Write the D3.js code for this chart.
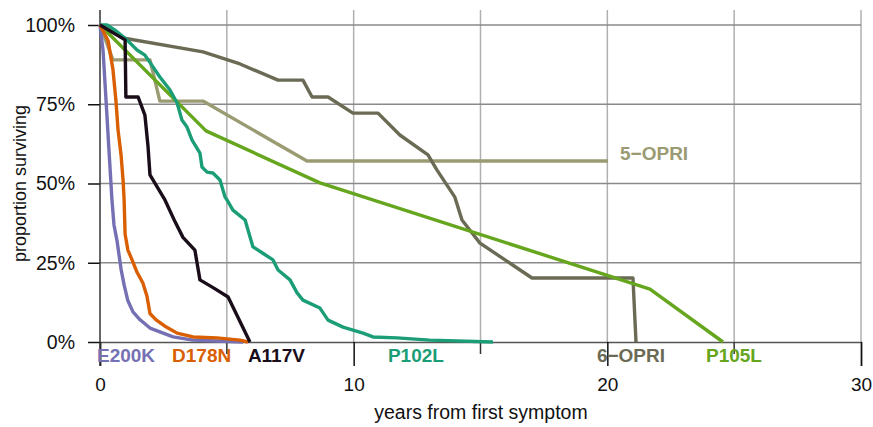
<!DOCTYPE html>
<html>
<head>
<meta charset="utf-8">
<script src="https://cdn.jsdelivr.net/npm/d3@7"></script>
<style>
  body { margin: 0; background: #fff; }
  svg { display: block; font-family: "Liberation Sans", Arial, sans-serif; }
</style>
</head>
<body>
<div id="chart"></div>
<script>
// survival curves, [years, proportion]
const e200k = [[0,1],[0.12,0.92],[0.24,0.76],[0.35,0.61],[0.47,0.45],[0.55,0.37],[0.67,0.32],[0.83,0.23],[0.95,0.18],[1.10,0.13],[1.30,0.095],[1.58,0.07],[1.97,0.044],[2.36,0.032],[2.88,0.016],[3.67,0.006],[4.61,0.003],[5.64,0]];
const d178n = [[0,1],[0.32,0.95],[0.51,0.86],[0.63,0.76],[0.71,0.67],[0.83,0.59],[0.91,0.51],[0.95,0.45],[0.99,0.34],[1.10,0.29],[1.26,0.26],[1.46,0.22],[1.69,0.186],[1.85,0.145],[1.97,0.09],[2.21,0.07],[2.56,0.05],[3.04,0.028],[3.67,0.016],[4.61,0.013],[5.52,0.006],[5.83,0]];
const a117v = [[0,1],[0.99,0.953],[1.02,0.773],[1.50,0.773],[1.77,0.716],[1.89,0.62],[1.97,0.527],[2.56,0.448],[2.96,0.379],[3.27,0.33],[3.74,0.29],[3.94,0.196],[4.49,0.17],[5.05,0.142],[5.91,0]];
const p102l = [[0,1],[0.28,1],[0.59,0.984],[1.06,0.953],[1.46,0.921],[1.77,0.905],[2.09,0.868],[2.36,0.836],[2.76,0.795],[3.04,0.754],[3.23,0.70],[3.43,0.678],[3.63,0.637],[3.94,0.596],[4.02,0.552],[4.22,0.536],[4.45,0.533],[4.73,0.511],[4.93,0.457],[5.01,0.448],[5.24,0.416],[5.72,0.385],[6.03,0.30],[6.42,0.28],[6.82,0.259],[7.02,0.227],[7.49,0.196],[7.77,0.155],[8.00,0.132],[8.67,0.107],[8.99,0.069],[9.58,0.047],[10.37,0.028],[10.76,0.016],[11.71,0.013],[13.0,0.006],[15.49,0]];
const opri6 = [[0,1],[0.91,0.959],[4.06,0.915],[5.52,0.877],[7.02,0.826],[8.0,0.826],[8.36,0.773],[8.99,0.773],[9.97,0.722],[10.96,0.722],[11.82,0.653],[12.93,0.59],[13.28,0.543],[13.99,0.457],[14.27,0.385],[14.98,0.312],[17.03,0.202],[21.01,0.202],[21.13,0]];
const opri5 = [[0,1],[0.51,0.89],[1.97,0.89],[2.36,0.76],[4.06,0.76],[8.16,0.571],[20.02,0.571]];
const p105l = [[0,1],[4.18,0.666],[8.67,0.502],[21.68,0.167],[24.56,0]];

const names = ["5\u2212OPRI", "6\u2212OPRI", "P105L", "P102L", "E200K", "D178N", "A117V"];
const series = [opri5, opri6, p105l, p102l, e200k, d178n, a117v];
const colors = ["#9b9b73", "#6b6b55", "#66a61e", "#1b9e77", "#7570b3", "#d95f02", "#1a0d1a"];

const xTicks = [0, 10, 20, 30];
const yTicks = [0, 0.25, 0.5, 0.75, 1];

const W = 873, H = 427;
const margin = {top: 25, right: 12, bottom: 85, left: 100};

const svg = d3.select("#chart").append("svg")
    .attr("width", W)
    .attr("height", H);

const x = d3.scaleLinear().domain([0, 30]).range([margin.left, W - margin.right]);
const y = d3.scaleLinear().domain([0, 1]).range([H - margin.bottom, margin.top]);

// vertical grid every 5 years
svg.append("g")
    .selectAll("line")
    .data(d3.range(5, 31, 5))
    .join("line")
    .attr("x1", d => x(d)).attr("x2", d => x(d))
    .attr("y1", y(1) - 15).attr("y2", y(0))
    .attr("stroke", "#b0b0b0")
    .attr("stroke-width", 1.5);

// horizontal grid
svg.append("g")
    .selectAll("line")
    .data(yTicks.filter(d => d > 0))
    .join("line")
    .attr("x1", x(0)).attr("x2", x(30))
    .attr("y1", d => y(d)).attr("y2", d => y(d))
    .attr("stroke", "#8a8a8a")
    .attr("stroke-width", 1.5);

// x axis
const xAxis = svg.append("g")
    .attr("transform", `translate(0, ${y(0)})`)
    .call(d3.axisBottom(x).tickValues(xTicks).tickSize(24).tickPadding(12).tickFormat(d3.format("d")));
xAxis.select(".domain").attr("stroke", "#555").attr("stroke-width", 1.5);
xAxis.selectAll(".tick line").attr("stroke", "#111").attr("stroke-width", 1.5);
xAxis.selectAll(".tick text").attr("font-size", 19).attr("fill", "#111");

svg.append("g")
    .selectAll("line")
    .data([5, 15, 25])
    .join("line")
    .attr("x1", d => x(d)).attr("x2", d => x(d))
    .attr("y1", y(0)).attr("y2", y(0) + 12)
    .attr("stroke", "#333")
    .attr("stroke-width", 1.5);

// y axis
const yAxis = svg.append("g")
    .attr("transform", `translate(${x(0)}, 0)`)
    .call(d3.axisLeft(y).tickValues(yTicks).tickSize(12).tickPadding(13).tickFormat(d3.format(".0%")));
yAxis.select(".domain").remove();
yAxis.selectAll(".tick line").attr("stroke", "#111").attr("stroke-width", 1.5);
yAxis.selectAll(".tick text").attr("font-size", 19.5).attr("fill", "#111").attr("font-family", "Liberation Sans, Arial, sans-serif");

svg.append("line")
    .attr("x1", x(0)).attr("x2", x(0))
    .attr("y1", y(1) - 15).attr("y2", y(0) + 24)
    .attr("stroke", "#333")
    .attr("stroke-width", 1.5);

svg.append("text")
    .attr("x", 481)
    .attr("y", 419)
    .attr("text-anchor", "middle")
    .attr("font-size", 19.5)
    .attr("fill", "#111")
    .text("years from first symptom");

svg.append("text")
    .attr("transform", `translate(26, ${y(0.5)}) rotate(-90)`)
    .attr("text-anchor", "middle")
    .attr("font-size", 18)
    .attr("fill", "#111")
    .text("proportion surviving");

// curves
const line = d3.line().x(d => x(d[0])).y(d => y(d[1]));

svg.append("g")
    .selectAll("path")
    .data(series)
    .join("path")
    .attr("d", line)
    .attr("fill", "none")
    .attr("stroke", (d, i) => colors[i])
    .attr("stroke-width", 3.4)
    .attr("stroke-linejoin", "round");

// labels: [x in years, y in proportion]
const labelPos = [[20.5, 0.574], [19.59, -0.063], [23.89, -0.063], [11.35, -0.063], [-0.12, -0.063], [2.84, -0.063], [5.83, -0.063]];

svg.append("g")
    .selectAll("text")
    .data(names)
    .join("text")
    .attr("x", (d, i) => x(labelPos[i][0]))
    .attr("y", (d, i) => y(labelPos[i][1]))
    .attr("font-size", 19)
    .attr("font-weight", "bold")
    .attr("fill", (d, i) => colors[i])
    .text(d => d);
</script>
</body>
</html>
